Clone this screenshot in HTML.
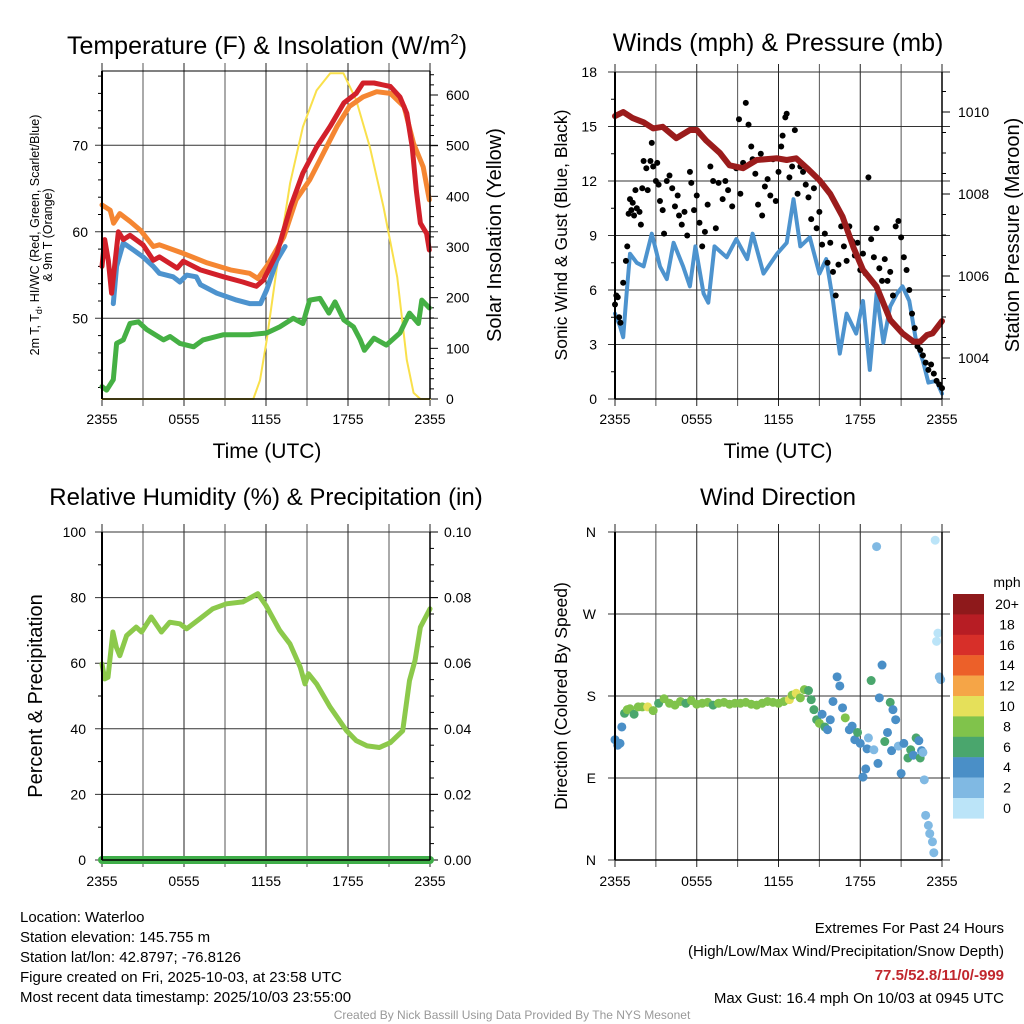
<!DOCTYPE html>
<html><head><meta charset="utf-8"><style>
html,body{margin:0;padding:0;background:#fff;}
svg{display:block;font-family:"Liberation Sans",Arial,sans-serif;}
</style></head><body>
<svg id="c" width="1024" height="1024" viewBox="0 0 1024 1024"></svg>
<script>
// ---------- DATA ----------
const tempHours=[0,0.2,0.46,0.7,1.2,1.56,2.05,3.0,3.75,4.2,5.5,5.95,7.2,8.9,10.3,11.3,11.8,12.8,13.8,14.7,15.7,16.7,17.7,18.6,19.1,19.9,21.1,21.8,22.3,22.7,23.0,23.3,23.75,23.95];
const tempVals=[56.0,59.1,56.7,52.9,60.0,59.1,59.6,58.5,56.7,57.1,55.8,56.6,55.6,54.8,54.2,53.7,54.4,57.5,62.9,66.8,69.8,72.2,74.9,76.0,77.2,77.2,76.8,75.6,73.7,69.8,64.8,61.0,59.8,57.9];
const t9Hours=[0,0.6,0.85,1.3,2.05,2.8,3.75,4.2,5.95,7.7,9.4,10.8,11.4,12.05,13.3,14.2,15.2,16.2,17.2,18.1,19.1,20.1,21.1,22.1,22.8,23.5,23.95];
const t9Vals=[63.1,62.5,61.0,62.1,61.2,60.2,58.3,58.5,57.5,56.4,55.6,55.2,54.6,56.0,59.4,63.7,66.0,69.1,72.2,74.5,75.6,76.2,76.0,74.5,70.2,67.5,63.7];
const wcHours=[0.83,1.07,1.56,2.3,3.0,3.75,4.2,5.2,5.7,6.2,6.9,7.2,8.4,9.85,10.8,11.6,12.05,12.8,13.4];
const wcVals=[51.7,56.0,58.7,57.9,57.1,56.0,55.2,54.8,54.2,55.0,54.8,53.9,52.9,52.1,51.7,51.7,53.3,56.7,58.3];
const tdHours=[0,0.34,0.83,1.07,1.56,2.05,2.66,3.27,4.5,4.98,5.7,6.7,7.4,8.9,10.8,12.05,13.0,14.0,14.7,15.2,15.95,16.6,17.05,17.7,18.4,18.9,19.2,19.9,20.8,21.8,22.5,23.15,23.4,23.95];
const tdVals=[42.1,41.7,42.9,47.1,47.5,49.4,49.6,48.7,47.5,47.9,47.1,46.7,47.5,48.1,48.1,48.3,49.0,50.0,49.4,52.1,52.3,50.6,51.9,49.8,49.0,47.5,46.3,47.7,46.9,48.3,50.6,49.4,52.1,51.2];
const solarHours=[0,11.07,11.56,12.05,12.8,13.76,14.7,15.7,16.7,17.66,18.6,19.6,20.6,21.6,22.3,22.8,23.3,24];
const solarVals=[0,0,37,116,260,426,537,609,643,643,590,497,379,241,77,12,0,0];
const windHours=[0,0.37,0.6,0.85,1.1,1.6,2.1,2.7,3.3,3.8,4.3,5.0,5.5,5.9,6.5,6.85,7.3,8.2,8.9,9.7,10.1,10.9,11.9,12.6,13.1,13.6,14.3,15.0,15.5,16.0,16.5,17.0,17.7,18.2,18.7,19.2,19.7,20.2,20.7,21.1,21.6,22.1,22.6,23.0,23.6,24];
const windVals=[4.7,4.0,3.4,5.8,8.0,7.5,7.3,9.1,7.3,6.6,8.6,7.3,6.2,8.4,5.8,5.3,8.4,7.8,8.8,7.7,9.1,6.9,8.0,8.6,11.0,8.4,8.9,6.9,7.7,5.4,2.5,4.7,3.6,5.4,1.6,5.8,3.1,5.1,5.8,6.2,5.4,3.2,2.1,0.9,1.0,0.3];
const gustHours=[0,0.1,0.2,0.3,0.4,0.6,0.8,0.9,1.0,1.1,1.2,1.3,1.4,1.5,1.6,1.8,1.9,2.0,2.1,2.3,2.4,2.6,2.7,2.8,3.0,3.1,3.2,3.3,3.5,3.6,3.8,4.0,4.2,4.4,4.6,4.7,4.9,5.1,5.3,5.5,5.6,5.8,6.0,6.2,6.4,6.6,6.8,7.0,7.2,7.4,7.6,7.9,8.1,8.3,8.6,8.9,9.1,9.2,9.4,9.6,9.8,10.0,10.1,10.3,10.5,10.7,10.8,11.0,11.2,11.4,11.6,11.8,12.0,12.2,12.3,12.5,12.6,12.8,13.0,13.2,13.4,13.6,13.8,14.0,14.2,14.4,14.6,14.8,15.0,15.2,15.4,15.6,15.8,16.0,16.2,16.4,16.6,16.8,17.0,17.2,17.4,17.6,17.8,18.0,18.2,18.4,18.6,18.8,19.0,19.2,19.4,19.6,19.8,20.0,20.2,20.4,20.6,20.8,21.0,21.2,21.4,21.6,21.8,22.0,22.2,22.4,22.6,22.8,23.0,23.2,23.4,23.6,23.8,24.0];
const gustVals=[5.2,5.7,5.6,4.5,4.2,6.4,7.6,8.4,10.2,11.0,10.4,10.8,10.1,11.5,10.5,10.3,9.6,11.6,13.1,12.7,11.5,13.1,14.1,12.8,12.0,13.0,11.8,10.9,10.4,9.1,12.0,12.3,11.6,10.6,11.2,10.1,9.6,10.3,9.0,12.5,11.9,10.4,11.2,9.7,8.4,9.2,10.7,12.8,12.0,9.4,11.9,11.0,12.0,11.5,10.6,12.7,15.4,11.3,13.0,16.3,15.1,13.9,13.2,12.4,10.7,13.5,10.1,11.7,12.1,11.2,13.2,10.9,12.5,13.9,14.5,15.5,15.7,12.2,12.8,14.8,11.3,12.8,12.5,11.8,11.1,9.9,11.6,9.4,10.3,8.5,9.1,7.5,8.6,7.0,5.7,7.4,9.5,8.4,7.6,9.5,8.7,7.9,8.6,7.1,8.0,6.9,12.2,8.8,7.8,9.4,7.2,6.5,7.7,6.5,7.0,5.7,9.5,9.8,8.9,7.8,7.1,6.0,4.7,3.9,2.9,2.7,2.4,2.0,1.6,1.9,1.4,1.0,0.8,0.6];
const presHours=[0,0.6,1.3,2.1,2.8,3.5,4.5,5.5,6.0,6.7,7.7,8.4,9.4,10.4,11.9,12.6,13.3,14.1,15.0,15.8,16.7,17.5,18.2,19.2,20.2,21.1,21.9,22.4,22.9,23.3,24];
const presVals=[1009.9,1010.0,1009.85,1009.75,1009.6,1009.64,1009.36,1009.56,1009.56,1009.3,1009.0,1008.7,1008.63,1008.83,1008.87,1008.83,1008.87,1008.63,1008.34,1008.0,1007.45,1006.7,1006.15,1005.74,1004.93,1004.6,1004.4,1004.4,1004.56,1004.6,1004.9];
const rhHours=[0,0.2,0.44,0.8,1.05,1.3,1.8,2.5,2.9,3.6,4.35,4.95,5.7,6.2,7.15,8.1,9.1,10.3,11.4,12.0,13.0,13.75,14.5,14.85,15.1,15.7,16.7,17.9,18.6,19.4,20.3,21.1,22.0,22.5,22.9,23.3,24];
const rhVals=[59.8,55.2,55.7,69.5,64.9,62.3,68.4,71.0,69.5,74.1,69.5,72.5,72.0,70.5,73.5,76.6,78.1,78.7,81.2,77.6,70.0,65.9,58.8,53.7,56.8,53.7,46.6,39.4,36.4,34.8,34.3,35.8,39.4,54.7,60.8,71.0,76.6];
const precipHours=[0,24];
const precipVals=[0,0];
const dirHours=[0,0.2,0.37,0.5,0.7,0.9,1.1,1.4,1.7,2.0,2.4,2.8,3.2,3.6,4.0,4.4,4.8,5.2,5.6,6.0,6.4,6.8,7.2,7.6,8.0,8.4,8.8,9.2,9.6,10.0,10.4,10.8,11.2,11.6,12.0,12.4,12.8,13.0,13.3,13.6,13.9,14.2,14.4,14.6,14.8,15.0,15.2,15.4,15.6,15.8,16.0,16.3,16.5,16.7,16.9,17.2,17.4,17.6,17.8,18.0,18.2,18.4,18.5,18.6,18.8,19.0,19.2,19.3,19.4,19.6,19.8,20.0,20.2,20.3,20.4,20.6,20.8,21.0,21.2,21.5,21.7,21.9,22.1,22.3,22.4,22.5,22.6,22.7,22.8,23.0,23.1,23.3,23.4,23.5,23.6,23.7,23.8,23.9];
const dirVals=[132,126,128,146,161,165,166,160,168,168,168,164,172,177,172,170,174,172,175,171,172,173,170,172,173,171,172,172,173,171,170,172,174,173,172,174,176,181,183,178,187,186,176,165,154,150,160,146,143,154,174,201,191,167,156,143,147,132,140,128,91,100,122,134,197,121,344,106,178,214,130,140,173,120,165,154,125,95,128,112,121,115,134,131,112,120,118,88,49,38,29,20,8,351,240,249,201,198,176,161];
const dirSpeeds=[4,4,4,4,6,8,8,6,8,8,10,8,6,8,8,8,8,6,8,8,8,8,6,8,8,8,8,8,8,8,8,8,8,8,8,8,10,8,10,8,8,6,6,6,6,8,4,6,4,4,4,4,4,4,8,4,4,4,6,4,4,4,4,2,6,2,2,4,4,4,6,4,6,4,4,4,2,4,4,6,6,4,6,4,6,4,2,2,2,2,2,2,2,0,0,0,2,2,0,0];
const cbLabels=["20+","18","16","14","12","10","8","6","4","2","0"];
const cbColors=["#8e191b","#b71d24","#d72f29","#ec6029","#f5a547","#e5e05a","#80c34b","#4aa66d","#4a8fc7","#80b9e3","#bbe4f8"];
const xTickLabels=["2355","0555","1155","1755","2355"];
const tempTicks=[50,60,70];
const solarTicks=[0,100,200,300,400,500,600];
const windTicks=[0,3,6,9,12,15,18];
const presTicks=[1004,1006,1008,1010];
const rhTicks=[0,20,40,60,80,100];
const pcpTicks=["0.00","0.02","0.04","0.06","0.08","0.10"];
const dirTickLabels=["N","E","S","W","N"];

// ---------- helpers ----------
const S=document.getElementById('c');const NS="http://www.w3.org/2000/svg";
function mk(tag,attrs,parent){const e=document.createElementNS(NS,tag);for(const k in attrs)e.setAttribute(k,attrs[k]);(parent||S).appendChild(e);return e;}
function txt(s,x,y,size,anchor,extra){const e=mk('text',Object.assign({x:x,y:y,'font-size':size,'text-anchor':anchor||'middle',fill:'#000'},extra||{}));e.textContent=s;return e;}
function lin(d0,d1,r0,r1){return v=>r0+(v-d0)/(d1-d0)*(r1-r0);}
function poly(xs,ys,fx,fy,color,w,name){const pts=xs.map((h,i)=>fx(h).toFixed(1)+','+fy(ys[i]).toFixed(1)).join(' ');const p=mk('polyline',{points:pts,fill:'none',stroke:color,'stroke-width':w,'stroke-linejoin':'round','stroke-linecap':'round'});


return p;}

function frame(L,R,T,B,hGrid,name){
  const g=mk('g',{});
  
  
  for(let i=0;i<=8;i++){const x=L+(R-L)*i/8;mk('line',{x1:x,y1:T-8,x2:x,y2:B+7,stroke:i%2?'#555':'#222','stroke-width':1},g);}
  hGrid.forEach(y=>mk('line',{x1:L-7,y1:y,x2:R+8,y2:y,stroke:'#333','stroke-width':1},g));
  return g;
}
function border(L,R,T,B){mk('line',{x1:L,y1:T,x2:L,y2:B,stroke:'#000','stroke-width':2});mk('line',{x1:R,y1:T,x2:R,y2:B,stroke:'#000','stroke-width':1.5});mk('line',{x1:L,y1:B,x2:R,y2:B,stroke:'#000','stroke-width':1.5});}
function xlabels(L,R,y){xTickLabels.forEach((s,i)=>{const t=txt(s,L+(R-L)*i/4,y,14);});}

// ---------- Panel 1: temperature ----------
{const L=102,R=430,T=71,B=399;
 const fx=lin(0,24,L,R), fy=lin(50,70,318.3,145.3), fs=lin(0,600,399,95);
 frame(L,R,T,B,tempTicks.map(fy),'temp-grid');
 mk('line',{x1:L,y1:T,x2:R,y2:T,stroke:'#000','stroke-width':1});
 for(let v=42;v<=78;v+=2){if(v%10)mk('line',{x1:L-4,y1:fy(v),x2:L,y2:fy(v),stroke:'#000'});}
 for(let v=0;v<=640;v+=20){mk('line',{x1:R,y1:fs(v),x2:R+(v%100?4:8),y2:fs(v),stroke:'#000'});}
 poly(solarHours,solarVals,fx,fs,'#f9e04b',2,'solar-line');
 poly(tdHours,tdVals,fx,fy,'#45b044',5,'dewpoint-line');
 poly(t9Hours,t9Vals,fx,fy,'#f58632',5,'temp-9m-line');
 poly(wcHours,wcVals,fx,fy,'#4d93ce',5,'windchill-line');
 poly(tempHours,tempVals,fx,fy,'#d2202a',5,'temp-2m-line');
 border(L,R,T,B);
 tempTicks.forEach(v=>txt(String(v),88,fy(v)+5,14,'end'));
 solarTicks.forEach(v=>txt(String(v),446,fs(v)+5,14,'start'));
 xlabels(L,R,424);
 txt('Time (UTC)',267,458,21);
 const t=txt('',267,54,25);t.innerHTML='Temperature (F) &amp; Insolation (W/m<tspan dy="-10" font-size="15">2</tspan><tspan dy="10">)</tspan>';
 
 const a=txt('',0,0,12.5,'middle',{transform:'translate(39,235) rotate(-90)'});a.innerHTML='2m T, T<tspan dy="3" font-size="9">d</tspan><tspan dy="-3">, HI/WC (Red, Green, Scarlet/Blue)</tspan>';
 txt('& 9m T (Orange)',0,0,12.5,'middle',{transform:'translate(52,235) rotate(-90)'});
 txt('Solar Insolation (Yellow)',0,0,20,'middle',{transform:'translate(501,235) rotate(-90)'});
}
// ---------- Panel 2: wind ----------
{const L=615,R=942,T=72,B=399;
 const fx=lin(0,24,L,R), fy=lin(0,18,399,72), fp=lin(1004,1010,358,112);
 frame(L,R,T,B,windTicks.map(fy),'wind-grid');
 windTicks.slice(0,-1).forEach(v=>mk('line',{x1:L-4,y1:fy(v+1.5),x2:L,y2:fy(v+1.5),stroke:'#000'}));
 for(let v=1003.5;v<=1010.8;v+=0.5){mk('line',{x1:R,y1:fp(v),x2:R+(Math.abs(v%2)<0.01?8:4),y2:fp(v),stroke:'#000'});}
 poly(windHours,windVals,fx,fy,'#4d93ce',4,'sonic-wind-line');
 gustHours.forEach((h,i)=>{const c=mk('circle',{cx:fx(h),cy:fy(gustVals[i]),r:3,fill:'#000'});
  
  });
 poly(presHours,presVals,fx,fp,'#9b1c1c',6,'pressure-line');
 border(L,R,T,B);
 windTicks.forEach(v=>txt(String(v),597,fy(v)+5,14,'end'));
 presTicks.forEach(v=>txt(String(v),958,fp(v)+5,14,'start'));
 xlabels(L,R,424);
 txt('Time (UTC)',778,458,21);
 txt('Winds (mph) & Pressure (mb)',778,51,25);
 txt('Sonic Wind & Gust (Blue, Black)',0,0,17.5,'middle',{transform:'translate(567,235) rotate(-90)'});
 txt('Station Pressure (Maroon)',0,0,20,'middle',{transform:'translate(1019,235) rotate(-90)'});
}
// ---------- Panel 3: RH ----------
{const L=102,R=430,T=532,B=860;
 const fx=lin(0,24,L,R), fy=lin(0,100,860,532), fp=lin(0,0.10,860,532);
 frame(L,R,T,B,rhTicks.map(fy),'rh-grid');
 for(let v=10;v<100;v+=20)mk('line',{x1:L-4,y1:fy(v),x2:L,y2:fy(v),stroke:'#000'});
 for(let v=0;v<=100;v+=5)mk('line',{x1:R,y1:fy(v),x2:R+(v%20?4:8),y2:fy(v),stroke:'#000'});
 poly(rhHours,rhVals,fx,fy,'#8cc94b',5,'rh-line');
 poly(precipHours,precipVals,fx,fp,'#3fae49',8,'precip-line');
 border(L,R,T,B);
 rhTicks.forEach(v=>txt(String(v),86,fy(v)+5,14,'end'));
 pcpTicks.forEach((s,i)=>txt(s,444,fy(i*20)+5,14,'start'));
 xlabels(L,R,886);
 txt('Relative Humidity (%) & Precipitation (in)',266,505,24);
 txt('Percent & Precipitation',0,0,20,'middle',{transform:'translate(42,696) rotate(-90)'});
}
// ---------- Panel 4: direction ----------
{const L=615,R=942,T=532,B=860;
 const fx=lin(0,24,L,R), fy=lin(0,360,860,532);
 frame(L,R,T,B,[0,90,180,270,360].map(fy),'direction-grid');
 const colorOf=s=>cbColors[10-Math.min(10,Math.round(s/2))];
 dirHours.forEach((h,i)=>{const c=mk('circle',{cx:fx(h),cy:fy(dirVals[i]),r:4.5,fill:colorOf(dirSpeeds[i])});
  
  });
 border(L,R,T,B);
 dirTickLabels.forEach((s,i)=>txt(s,596,fy(i*90)+5,14,'end'));
 xlabels(L,R,886);
 txt('Wind Direction',778,505,24);
 txt('Direction (Colored By Speed)',0,0,17.5,'middle',{transform:'translate(567,696) rotate(-90)'});
 txt('mph',1007,587,14);
 cbColors.forEach((c,i)=>{const r=mk('rect',{x:953,y:594+i*20.4,width:31,height:20.6,fill:c});
  
  
  txt(cbLabels[i],1007,594+i*20.4+15,14);});
}
// ---------- footer ----------
["Location: Waterloo","Station elevation: 145.755 m","Station lat/lon: 42.8797; -76.8126","Figure created on Fri, 2025-10-03, at 23:58 UTC","Most recent data timestamp: 2025/10/03 23:55:00"].forEach((s,i)=>txt(s,20,922+i*20,15,'start'));
txt('Extremes For Past 24 Hours',1004,933,15,'end');
txt('(High/Low/Max Wind/Precipitation/Snow Depth)',1004,956,15,'end');
txt('77.5/52.8/11/0/-999',1004,980,15,'end',{fill:'#c1272d','font-weight':'bold'});
txt('Max Gust: 16.4 mph On 10/03 at 0945 UTC',1004,1003,15,'end');
txt('Created By Nick Bassill Using Data Provided By The NYS Mesonet',512,1019,12,'middle',{fill:'#999'});
</script>
</body></html>
